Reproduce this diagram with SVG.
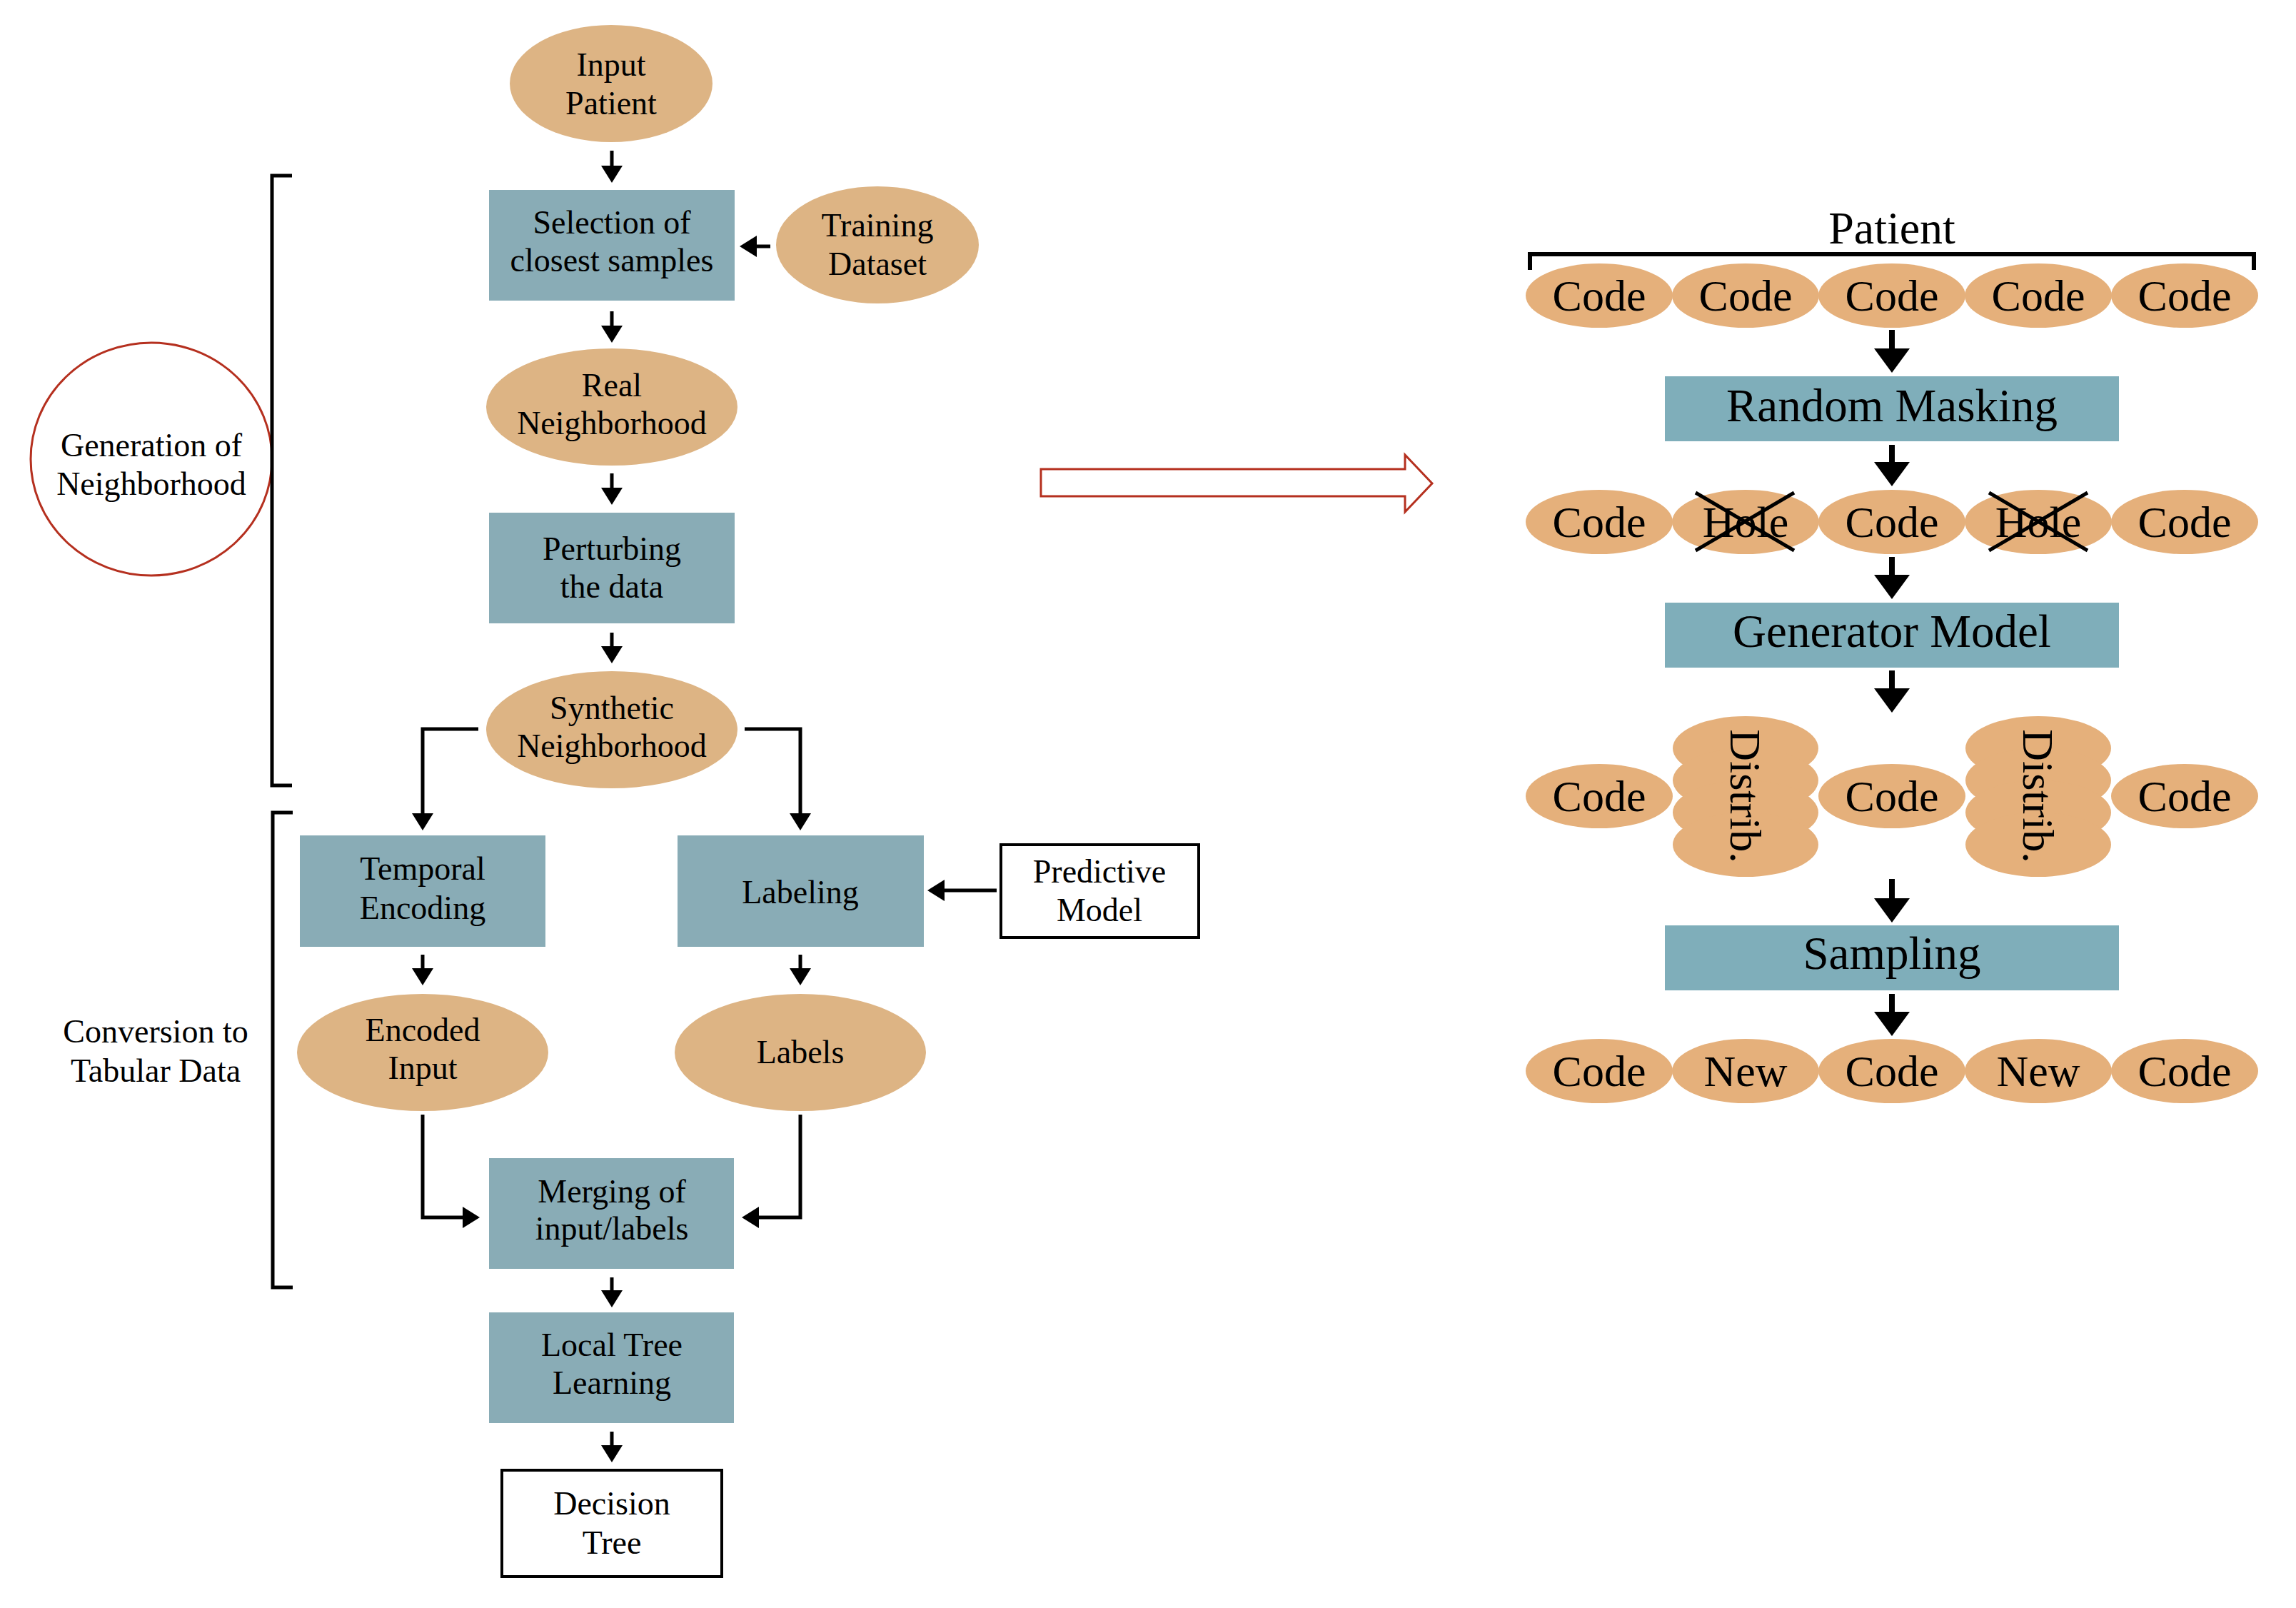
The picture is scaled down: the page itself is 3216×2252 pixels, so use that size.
<svg xmlns="http://www.w3.org/2000/svg" width="3216" height="2252" viewBox="0 0 3216 2252" font-family="'Liberation Serif', 'DejaVu Serif', serif">
<style>
text{font-family:"Liberation Serif","DejaVu Serif",serif;fill:#000;text-anchor:middle}
.l{font-size:46px}
.r{font-size:62px}
.rb{font-size:65px}
.ell{fill:#DDB484}
.box{fill:#89ACB6}
.rell{fill:#E5B07B}
.rbox{fill:#7FAEBA}
.wbox{fill:#fff;stroke:#000;stroke-width:4}
.ln{fill:none;stroke:#000;stroke-width:5}
.lnr{fill:none;stroke:#000;stroke-width:8}
.hd{fill:#000}
.cross{stroke:#000;stroke-width:5}
</style>
<rect x="0" y="0" width="3216" height="2252" fill="#fff"/>

<!-- Left flowchart nodes -->
<g id="input-patient"><ellipse class="ell" cx="856" cy="117" rx="142" ry="82"/><text class="l" x="856" y="106">Input</text><text class="l" x="856" y="160">Patient</text></g>
<g id="selection"><rect class="box" x="685" y="266" width="344" height="155"/><text class="l" x="857" y="327">Selection of</text><text class="l" x="857" y="380">closest samples</text></g>
<g id="training-dataset"><ellipse class="ell" cx="1229" cy="343" rx="142" ry="82"/><text class="l" x="1229" y="331">Training</text><text class="l" x="1229" y="385">Dataset</text></g>
<g id="real-neighborhood"><ellipse class="ell" cx="857" cy="570" rx="176" ry="82"/><text class="l" x="857" y="555">Real</text><text class="l" x="857" y="608">Neighborhood</text></g>
<g id="perturbing"><rect class="box" x="685" y="718" width="344" height="155"/><text class="l" x="857" y="784">Perturbing</text><text class="l" x="857" y="837">the data</text></g>
<g id="synthetic-neighborhood"><ellipse class="ell" cx="857" cy="1022" rx="176" ry="82"/><text class="l" x="857" y="1007">Synthetic</text><text class="l" x="857" y="1060">Neighborhood</text></g>
<g id="generation"><ellipse cx="212" cy="643" rx="169" ry="163" fill="#fff" stroke="#B5301F" stroke-width="3"/><text class="l" x="212" y="639">Generation of</text><text class="l" x="212" y="693">Neighborhood</text></g>
<g id="temporal-encoding"><rect class="box" x="420" y="1170" width="344" height="156"/><text class="l" x="592" y="1232">Temporal</text><text class="l" x="592" y="1287">Encoding</text></g>
<g id="labeling"><rect class="box" x="949" y="1170" width="345" height="156"/><text class="l" x="1121" y="1265">Labeling</text></g>
<g id="predictive-model"><rect class="wbox" x="1402" y="1183" width="277" height="130"/><text class="l" x="1540" y="1236">Predictive</text><text class="l" x="1540" y="1290">Model</text></g>
<g id="encoded-input"><ellipse class="ell" cx="592" cy="1474" rx="176" ry="82"/><text class="l" x="592" y="1458">Encoded</text><text class="l" x="592" y="1511">Input</text></g>
<g id="labels"><ellipse class="ell" cx="1121" cy="1474" rx="176" ry="82"/><text class="l" x="1121" y="1489">Labels</text></g>
<g id="conversion"><text class="l" x="218" y="1460">Conversion to</text><text class="l" x="218" y="1515">Tabular Data</text></g>
<g id="merging"><rect class="box" x="685" y="1622" width="343" height="155"/><text class="l" x="857" y="1684">Merging of</text><text class="l" x="857" y="1736">input/labels</text></g>
<g id="local-tree"><rect class="box" x="685" y="1838" width="343" height="155"/><text class="l" x="857" y="1899">Local Tree</text><text class="l" x="857" y="1952">Learning</text></g>
<g id="decision-tree"><rect class="wbox" x="703" y="2059" width="308" height="149"/><text class="l" x="857" y="2121">Decision</text><text class="l" x="857" y="2176">Tree</text></g>

<!-- Brackets -->
<g id="brackets">
<path class="ln" d="M409,246 H381 V1100 H409"/>
<path class="ln" d="M410,1138 H382 V1803 H410"/>
</g>

<!-- Red hollow arrow -->
<g id="transition-arrow"><polygon points="1458,657 1968,657 1968,637 2006,677 1968,717 1968,695 1458,695" fill="#fff" stroke="#B5301F" stroke-width="3"/></g>

<!-- Right panel nodes -->
<g id="patient-label"><text x="2650" y="341" style="font-size:64px">Patient</text><path d="M2143,378 V356 H3157 V378" fill="none" stroke="#000" stroke-width="6"/></g>
<g id="row1">
<ellipse class="rell" cx="2240" cy="414" rx="103" ry="45"/><text class="r" x="2240" y="435">Code</text>
<ellipse class="rell" cx="2445" cy="414" rx="103" ry="45"/><text class="r" x="2445" y="435">Code</text>
<ellipse class="rell" cx="2650" cy="414" rx="103" ry="45"/><text class="r" x="2650" y="435">Code</text>
<ellipse class="rell" cx="2855" cy="414" rx="103" ry="45"/><text class="r" x="2855" y="435">Code</text>
<ellipse class="rell" cx="3060" cy="414" rx="103" ry="45"/><text class="r" x="3060" y="435">Code</text>
</g>
<g id="random-masking"><rect class="rbox" x="2332" y="527" width="636" height="91"/><text class="rb" x="2650" y="590">Random Masking</text></g>
<g id="row2">
<ellipse class="rell" cx="2240" cy="731" rx="103" ry="45"/><text class="r" x="2240" y="752">Code</text>
<ellipse class="rell" cx="2445" cy="731" rx="103" ry="45"/><text class="r" x="2445" y="752">Hole</text>
<ellipse class="rell" cx="2650" cy="731" rx="103" ry="45"/><text class="r" x="2650" y="752">Code</text>
<ellipse class="rell" cx="2855" cy="731" rx="103" ry="45"/><text class="r" x="2855" y="752">Hole</text>
<ellipse class="rell" cx="3060" cy="731" rx="103" ry="45"/><text class="r" x="3060" y="752">Code</text>
<line class="cross" x1="2375" y1="690" x2="2513" y2="771"/><line class="cross" x1="2375" y1="771" x2="2513" y2="690"/>
<line class="cross" x1="2786" y1="690" x2="2924" y2="771"/><line class="cross" x1="2786" y1="771" x2="2924" y2="690"/>
</g>
<g id="generator-model"><rect class="rbox" x="2332" y="844" width="636" height="91"/><text class="rb" x="2650" y="906">Generator Model</text></g>
<g id="row3">
<ellipse class="rell" cx="2240" cy="1115" rx="103" ry="45"/><text class="r" x="2240" y="1136">Code</text>
<g id="distrib1"><ellipse class="rell" cx="2445" cy="1048" rx="102" ry="45"/><ellipse class="rell" cx="2445" cy="1093" rx="102" ry="45"/><ellipse class="rell" cx="2445" cy="1138" rx="102" ry="45"/><ellipse class="rell" cx="2445" cy="1183" rx="102" ry="45"/><text class="r" transform="translate(2445,1115) rotate(90)" x="0" y="21">Distrib.</text></g>
<ellipse class="rell" cx="2650" cy="1115" rx="103" ry="45"/><text class="r" x="2650" y="1136">Code</text>
<g id="distrib2"><ellipse class="rell" cx="2855" cy="1048" rx="102" ry="45"/><ellipse class="rell" cx="2855" cy="1093" rx="102" ry="45"/><ellipse class="rell" cx="2855" cy="1138" rx="102" ry="45"/><ellipse class="rell" cx="2855" cy="1183" rx="102" ry="45"/><text class="r" transform="translate(2855,1115) rotate(90)" x="0" y="21">Distrib.</text></g>
<ellipse class="rell" cx="3060" cy="1115" rx="103" ry="45"/><text class="r" x="3060" y="1136">Code</text>
</g>
<g id="sampling"><rect class="rbox" x="2332" y="1296" width="636" height="91"/><text class="rb" x="2650" y="1357">Sampling</text></g>
<g id="row4">
<ellipse class="rell" cx="2240" cy="1500" rx="103" ry="45"/><text class="r" x="2240" y="1521">Code</text>
<ellipse class="rell" cx="2445" cy="1500" rx="103" ry="45"/><text class="r" x="2445" y="1521">New</text>
<ellipse class="rell" cx="2650" cy="1500" rx="103" ry="45"/><text class="r" x="2650" y="1521">Code</text>
<ellipse class="rell" cx="2855" cy="1500" rx="103" ry="45"/><text class="r" x="2855" y="1521">New</text>
<ellipse class="rell" cx="3060" cy="1500" rx="103" ry="45"/><text class="r" x="3060" y="1521">Code</text>
</g>

<!-- Connectors -->
<g id="connectors">
<path class="ln" d="M857,211 V233"/><polygon class="hd" points="842,232 872,232 857,256"/>
<path class="ln" d="M1079,345 H1059"/><polygon class="hd" points="1060,330 1060,360 1036,345"/>
<path class="ln" d="M857,436 V457"/><polygon class="hd" points="842,456 872,456 857,480"/>
<path class="ln" d="M857,663 V684"/><polygon class="hd" points="842,683 872,683 857,707"/>
<path class="ln" d="M857,886 V906"/><polygon class="hd" points="842,905 872,905 857,929"/>
<path class="ln" d="M670,1021 H592 V1140"/><polygon class="hd" points="577,1139 607,1139 592,1163"/>
<path class="ln" d="M1043,1021 H1121 V1140"/><polygon class="hd" points="1106,1139 1136,1139 1121,1163"/>
<path class="ln" d="M592,1337 V1357"/><polygon class="hd" points="577,1356 607,1356 592,1380"/>
<path class="ln" d="M1121,1337 V1357"/><polygon class="hd" points="1106,1356 1136,1356 1121,1380"/>
<path class="ln" d="M1396,1247 H1322"/><polygon class="hd" points="1323,1232 1323,1262 1299,1247"/>
<path class="ln" d="M592,1561 V1705 H649"/><polygon class="hd" points="648,1690 648,1720 672,1705"/>
<path class="ln" d="M1121,1561 V1705 H1062"/><polygon class="hd" points="1063,1690 1063,1720 1039,1705"/>
<path class="ln" d="M857,1789 V1808"/><polygon class="hd" points="842,1807 872,1807 857,1831"/>
<path class="ln" d="M857,2005 V2025"/><polygon class="hd" points="842,2024 872,2024 857,2048"/>
<path class="lnr" d="M2650,462 V490"/><polygon class="hd" points="2625,488 2675,488 2650,522"/>
<path class="lnr" d="M2650,623 V649"/><polygon class="hd" points="2625,647 2675,647 2650,681"/>
<path class="lnr" d="M2650,780 V807"/><polygon class="hd" points="2625,805 2675,805 2650,839"/>
<path class="lnr" d="M2650,939 V966"/><polygon class="hd" points="2625,964 2675,964 2650,998"/>
<path class="lnr" d="M2650,1231 V1260"/><polygon class="hd" points="2625,1258 2675,1258 2650,1292"/>
<path class="lnr" d="M2650,1392 V1419"/><polygon class="hd" points="2625,1417 2675,1417 2650,1451"/>
</g>
</svg>
